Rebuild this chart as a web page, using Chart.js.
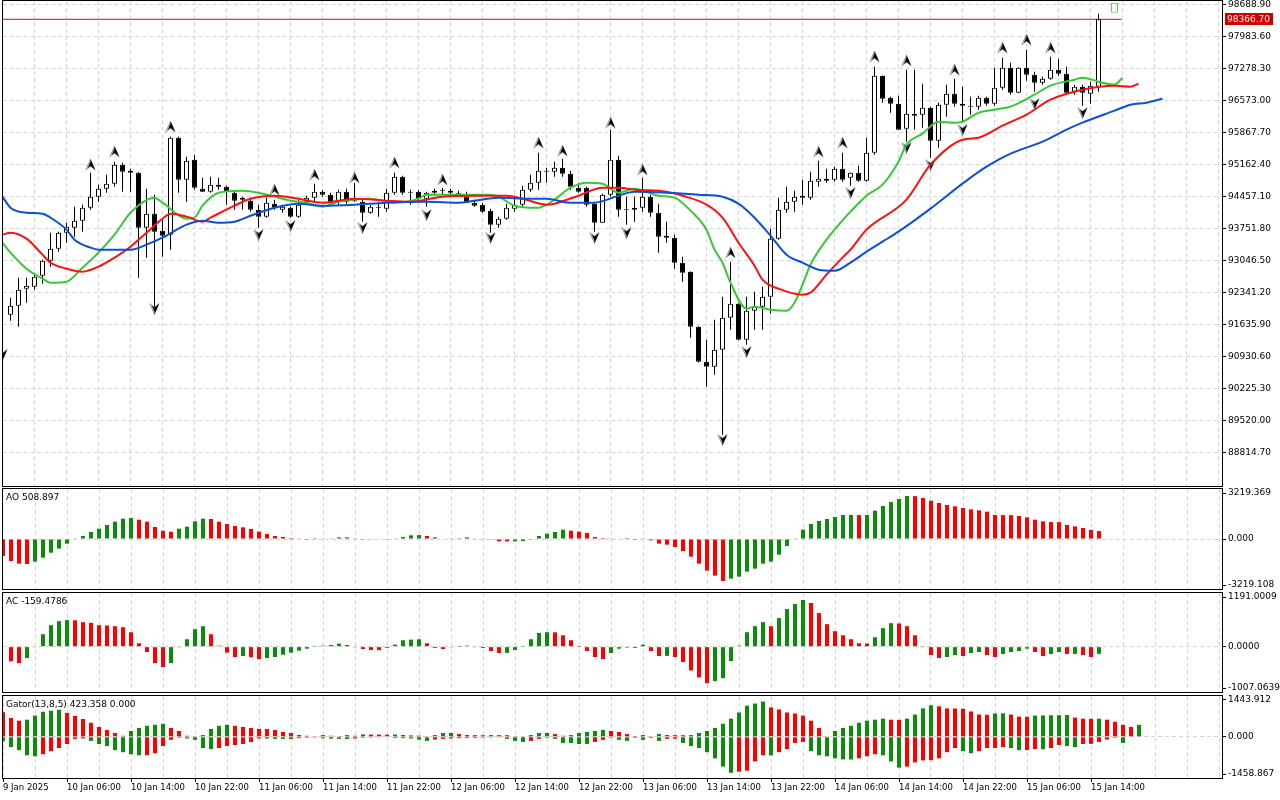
<!DOCTYPE html>
<html lang="en">
<head>
    <meta charset="UTF-8">
    <meta name="viewport" content="width=device-width, initial-scale=1.0">
    <title>BTCUSD H1 - Alligator, Fractals, AO, AC, Gator</title>
    <script src="https://cdn.jsdelivr.net/npm/chart.js"></script>
    <style>
        body { margin: 0; background: #fff; width: 1280px; height: 800px; overflow: hidden; position: relative; }
        canvas { position: absolute; left: 0; }
    </style>
</head>
<body>
<canvas id="priceChart" width="1280" height="487" style="top:0"></canvas>
<canvas id="aoChart" width="1280" height="103" style="top:487px"></canvas>
<canvas id="acChart" width="1280" height="103" style="top:590px"></canvas>
<canvas id="gatorChart" width="1280" height="106" style="top:694px"></canvas>

<script>
    // ---- data (bar index 0 = 9 Jan 22:00, one bar per hour) ----
    const firstCandleBar = 1;
    const candleOpen = [
        91856, 92055, 92429, 92474, 92716, 93046, 93311, 93664, 93774, 93928,
        94215, 94457, 94633, 94744, 95162, 95030, 94986, 93774, 94082, 93708,
        93620, 95758, 94832, 95273, 94633, 94567, 94722, 94678, 94545, 94435,
        94369, 94171, 94017, 94303, 94171, 94215, 94017, 94347, 94435, 94567,
        94501, 94347, 94567, 94413, 94347, 94105, 94237, 94193, 94545, 94898,
        94567, 94567, 94413, 94545, 94589, 94589, 94545, 94457, 94325, 94281,
        94149, 93840, 93972, 94193, 94281, 94611, 94766, 95030, 95008, 95096,
        94964, 94655, 94655, 94303, 93884, 94501, 95273, 94171, 94171, 94215,
        94457, 94105, 93598, 93554, 93002, 92804, 91592, 90821, 90711, 91085,
        91790, 92099, 91305, 91945, 92033, 92253, 93532, 94171, 94347, 94479,
        94435, 94788, 94854, 94832, 95074, 94876, 94986, 94810, 95427, 97124,
        96639, 96507, 95956, 96286, 96264, 96419, 95691, 96485, 96727, 96507,
        96463, 96441, 96639, 96507, 96860, 97300, 96749, 97300, 97146, 96970,
        97058, 97256, 97168, 96771, 96882, 96727, 96882
    ];
    const candleHigh = [
        92231, 92672, 92672, 92782, 93069, 93664, 93686, 93884, 94237, 94281,
        94986, 94722, 94942, 95229, 95207, 95074, 95000, 94633, 94501, 93950,
        95780, 95780, 95339, 95383, 94876, 94898, 94876, 94700, 94567, 94457,
        94435, 94281, 94435, 94391, 94281, 94237, 94391, 94479, 94744, 94611,
        94545, 94611, 94633, 94766, 94391, 94281, 94347, 94633, 94986, 94920,
        94611, 94611, 94567, 94633, 94655, 94633, 94589, 94567, 94391, 94325,
        94193, 94017, 94303, 94479, 94700, 94942, 95427, 95096, 95229, 95295,
        95030, 94766, 94678, 94325, 94523, 95934, 95361, 94457, 94457, 94876,
        94501, 94303, 93906, 93620, 93135, 92810, 91600, 91305, 91746, 92253,
        93024, 92110, 92253, 92363, 92474, 93752, 94435, 94678, 94589, 94832,
        95008, 95251, 95074, 95118, 95427, 94990, 95140, 95758, 97322, 97130,
        96661, 96683, 97256, 97256, 96948, 96441, 96529, 96926, 97058, 96882,
        96661, 96683, 96661, 97300, 97521, 97410, 97310, 97697, 97212, 97102,
        97543, 97499, 97322, 96926, 96926, 96992, 98490
    ];
    const candleLow = [
        91724, 91592, 92121, 92407, 92540, 92914, 93245, 93443, 93576, 93686,
        94171, 94347, 94545, 94678, 94567, 94567, 92672, 93113, 92033, 93135,
        93289, 94545, 94347, 94611, 94560, 94545, 94611, 94281, 94171, 94171,
        94127, 93774, 93995, 94171, 94105, 93995, 93995, 94281, 94347, 94457,
        94281, 94281, 94303, 94347, 93906, 94083, 94017, 94127, 94501, 94501,
        94281, 94391, 94237, 94479, 94501, 94501, 94457, 94320, 94237, 94105,
        93664, 93774, 93950, 94127, 94237, 94567, 94611, 94766, 94898, 94898,
        94611, 94545, 94237, 93686, 93880, 94457, 94017, 93840, 93906, 94127,
        94017, 93223, 93443, 92870, 92584, 91349, 90800, 90269, 90534, 89212,
        91526, 91290, 91195, 91526, 91526, 91878, 93510, 94105, 94127, 94281,
        94391, 94678, 94766, 94788, 94788, 94700, 94788, 94788, 95383, 96529,
        96308, 95930, 95670, 95934, 95978, 95317, 95537, 96220, 96441, 96110,
        96264, 96375, 96463, 96463, 96816, 96705, 96740, 97014, 96771, 96926,
        97036, 97124, 96705, 96705, 96463, 96507, 96771
    ];
    const candleClose = [
        92055, 92407, 92496, 92694, 93046, 93311, 93664, 93796, 93928, 94215,
        94457, 94633, 94744, 95162, 95008, 94986, 93774, 94082, 93686, 93598,
        95758, 94832, 95251, 94655, 94567, 94722, 94678, 94567, 94369, 94391,
        94171, 94017, 94325, 94215, 94237, 94017, 94281, 94435, 94567, 94501,
        94325, 94567, 94347, 94369, 94105, 94237, 94215, 94545, 94898, 94545,
        94545, 94413, 94545, 94589, 94600, 94545, 94523, 94325, 94259, 94127,
        93840, 93972, 94215, 94281, 94611, 94766, 95030, 95008, 95096, 94964,
        94678, 94567, 94281, 93884, 94501, 95273, 94171, 94160, 94215, 94457,
        94105, 93576, 93554, 93002, 92782, 91592, 90821, 90711, 91085, 91790,
        92099, 91305, 91945, 92033, 92253, 93532, 94171, 94347, 94457, 94435,
        94810, 94854, 94810, 95074, 94832, 94986, 94810, 95427, 97124, 96617,
        96507, 95934, 96286, 96242, 96419, 95691, 96485, 96727, 96507, 96463,
        96441, 96639, 96507, 96860, 97300, 96749, 97300, 97146, 96970, 97058,
        97256, 97168, 96749, 96882, 96749, 96904, 98366.70
    ];

    // Alligator lines, sampled along the curves (already shifted forward)
    const jawBars = [0, 1, 3, 5, 6, 8, 9, 11, 12, 16, 18, 20, 23, 25, 27, 29, 31, 34, 37, 40,
        44, 48, 53, 57, 59, 62, 66, 68, 71, 74, 77, 79, 83, 87, 90, 92, 94, 96, 98, 100,
        102, 104, 106, 108, 110, 112, 116, 120, 123, 126, 130, 133, 135, 139, 141, 143, 145];
    const jawPrices = [94457, 94215, 94104, 94082, 93994, 93730, 93509, 93333, 93289, 93289,
        93399, 93553, 93840, 93928, 93884, 93906, 94038, 94215, 94303, 94259,
        94281, 94325, 94347, 94325, 94369, 94435, 94413, 94413, 94325, 94325,
        94479, 94567, 94545, 94501, 94457, 94303, 93994, 93598, 93179, 93002,
        92848, 92826, 93002, 93245, 93465, 93686, 94193, 94744, 95118, 95405,
        95669, 95934, 96088, 96353, 96485, 96529, 96617];
    const teethBars = [0, 1, 3, 5, 6, 8, 10, 12, 14, 16, 18, 20, 21, 23, 25, 26, 29, 31, 34, 37,
        40, 44, 48, 51, 55, 59, 63, 65, 68, 69, 72, 75, 77, 79, 83, 85, 88, 90, 92, 94,
        95, 97, 100, 101, 103, 105, 106, 108, 113, 116, 120, 122, 125, 128, 131, 135, 139, 141, 142];
    const teethPrices = [93620, 93664, 93532, 93179, 93002, 92870, 92804, 92914, 93113, 93355,
        93664, 93972, 94082, 94017, 93906, 93994, 94259, 94413, 94479, 94413,
        94325, 94413, 94369, 94347, 94457, 94479, 94479, 94413, 94281, 94303,
        94479, 94655, 94655, 94611, 94567, 94479, 94281, 93994, 93443, 92936,
        92628, 92429, 92297, 92341, 92738, 93113, 93289, 93730, 94391, 95162,
        95713, 95758, 96022, 96264, 96595, 96815, 96904, 96882, 96948];
    const lipsBars = [0, 1, 3, 5, 6, 8, 10, 12, 14, 16, 19, 20, 23, 24, 25, 27, 30, 32, 34, 36,
        38, 40, 42, 46, 49, 52, 53, 57, 61, 62, 64, 66, 67, 69, 71, 73, 75, 77, 79, 82,
        84, 86, 88, 89, 90, 91, 93, 94, 96, 98, 99, 100, 101, 103, 104, 106, 108, 110, 112, 113,
        115, 117, 119, 120, 122, 124, 126, 129, 131, 134, 135, 137, 139, 140];
    const lipsPrices = [93443, 93223, 92870, 92650, 92562, 92584, 92892, 93223, 93620, 94104,
        94435, 94325, 93972, 93994, 94259, 94545, 94589, 94545, 94457, 94369,
        94325, 94237, 94347, 94413, 94325, 94413, 94501, 94501, 94501, 94457,
        94259, 94215, 94215, 94391, 94655, 94766, 94744, 94545, 94633, 94479,
        94435, 94149, 93730, 93289, 93002, 92562, 91989, 92033, 91967, 91945,
        92121, 92518, 92958, 93509, 93730, 94127, 94479, 94722, 95229, 95603,
        95846, 96110, 96088, 96110, 96308, 96375, 96441, 96705, 96904, 97036,
        97080, 96992, 96926, 97080];

    // Fractal arrow positions
    const fractalUpBars = [11, 14, 21, 34, 39, 44, 49, 55, 67, 70, 76, 80, 91, 102, 105, 109, 113, 119, 125, 128, 131];
    const fractalUpPrices = [95162, 95449, 96000, 94611, 94942, 94876, 95207, 94832, 95647, 95471, 96088,
        95052, 93223, 95449, 95647, 97543, 97455, 97256, 97741, 97917, 97741];
    const fractalDownBars = [0, 19, 32, 36, 45, 53, 61, 74, 78, 90, 93, 106, 113, 116, 120, 129, 135];
    const fractalDownPrices = [90975, 91989, 93620, 93818, 93774, 94060, 93554, 93554, 93664, 89101, 91041,
        94545, 95537, 95162, 95934, 96507, 96308];

    const lastPrice = 98366.70;
    const bidLineEndBar = 139.9;
    const tickBoxBar = 139;
    const tickBoxRange = [98512, 98733];

    const priceTicks = [98688.90, 97983.60, 97278.30, 96573.00, 95867.70, 95162.40, 94457.10, 93751.80,
        93046.50, 92341.20, 91635.90, 90930.60, 90225.30, 89520.00, 88814.70];
    const timeLabels = ['9 Jan 2025', '10 Jan 06:00', '10 Jan 14:00', '10 Jan 22:00', '11 Jan 06:00',
        '11 Jan 14:00', '11 Jan 22:00', '12 Jan 06:00', '12 Jan 14:00', '12 Jan 22:00', '13 Jan 06:00',
        '13 Jan 14:00', '13 Jan 22:00', '14 Jan 06:00', '14 Jan 14:00', '14 Jan 22:00', '15 Jan 06:00',
        '15 Jan 14:00'];

    const aoValues = [
        -1094, -1416, -1588, -1610, -1459, -1202, -880, -622, -300, 40,
        193, 451, 665, 901, 1116, 1309, 1352, 1245, 1116, 773,
        537, 472, 665, 794, 1137, 1309, 1288, 1116, 966, 837,
        751, 644, 472, 322, 193, 129, 64, 21, -10, 5,
        40, 45, 107, 110, 43, -20, -25, -30, -20, 21,
        129, 236, 250, 193, 107, 30, 45, 55, 107, 43,
        40, -21, -150, -155, -150, -129, -21, 193, 343, 451,
        601, 537, 472, 386, 129, 5, 43, 35, 5, -10,
        43, -86, -300, -365, -515, -773, -1137, -1588, -2039, -2361,
        -2704, -2554, -2425, -2103, -1910, -1588, -1459, -1009, -451, 43,
        601, 966, 1159, 1288, 1416, 1545, 1550, 1540, 1548, 1824,
        2125, 2382, 2575, 2768, 2760, 2640, 2468, 2318, 2189, 2103,
        1996, 1910, 1846, 1760, 1545, 1540, 1535, 1481, 1395, 1245,
        1137, 1094, 1090, 901, 815, 708, 590, 508.897
    ];
    const acValues = [
        null, -328, -365, -253, -15, 276, 477, 566, 589, 585,
        544, 529, 477, 470, 454, 432, 320, 75, -119, -365,
        -454, -365, -15, 164, 387, 454, 276, 22, -134, -231,
        -209, -235, -276, -253, -231, -179, -134, -89, -45, 3,
        22, 37, 67, 37, -15, -52, -75, -78, -30, 45,
        142, 156, 164, 75, -30, -52, -15, 2, 22, -7,
        -30, -97, -142, -138, -75, 3, 164, 305, 320, 318,
        253, 142, 2, -97, -231, -276, -142, -45, -22, -28,
        45, -97, -209, -205, -231, -343, -529, -685, -812, -767,
        -700, -320, 22, 320, 454, 544, 454, 633, 834, 946,
        1036, 969, 745, 499, 343, 253, 164, 75, 70, 209,
        410, 521, 515, 454, 253, -5, -186, -253, -231, -186,
        -209, -142, -119, -186, -231, -164, -119, -97, -45, -119,
        -209, -164, -119, -164, -160, -186, -231, -159.4786
    ];
    const gatorUpper = [
        873, 667, 570, 606, 751, 885, 921, 957, 848, 739,
        630, 497, 351, 242, 133, 36, 206, 315, 388, 424,
        461, 315, 206, 36, 24, 61, 279, 388, 424, 388,
        351, 315, 279, 275, 242, 170, 133, 61, 36, 24,
        61, 36, 30, 61, 36, 85, 80, 78, 75, 80,
        61, 48, 40, 24, 61, 133, 135, 97, 61, 58,
        55, 61, 58, 55, 24, 20, 61, 133, 135, 97,
        36, 61, 133, 170, 206, 242, 206, 170, 97, 5,
        61, 24, 97, 61, 58, 55, 61, 133, 206, 315,
        461, 642, 861, 1103, 1176, 1248, 1042, 970, 861, 824,
        751, 570, 315, 24, 206, 315, 388, 497, 570, 606,
        642, 606, 600, 642, 788, 1006, 1115, 1079, 1006, 1000,
        995, 897, 788, 780, 824, 830, 788, 715, 710, 751,
        755, 760, 765, 770, 679, 642, 636, 640, 606, 533,
        424, 351, 423.358
    ];
    const gatorLower = [
        -158, -364, -473, -655, -691, -618, -509, -400, -255, -73,
        -60, -145, -255, -327, -473, -545, -618, -655, -650, -582,
        -327, -109, -36, -60, -109, -400, -436, -400, -327, -291,
        -255, -182, -60, -65, -73, -75, -78, -48, -36, -30,
        -55, -70, -73, -78, -60, -36, -30, -25, -20, -45,
        -50, -60, -100, -145, -97, -73, -60, -50, -45, -40,
        -35, -30, -25, -73, -145, -182, -145, -73, -36, -73,
        -218, -220, -255, -258, -182, -109, -36, -109, -145, -36,
        -109, -40, -145, -73, -70, -218, -327, -400, -545, -764,
        -1054, -1273, -1236, -1200, -873, -655, -660, -545, -436, -218,
        -182, -509, -655, -691, -764, -800, -805, -764, -691, -618,
        -655, -873, -1091, -1054, -909, -836, -830, -764, -545, -400,
        -509, -582, -509, -400, -395, -364, -400, -473, -470, -436,
        -440, -400, -291, -327, -364, -255, -250, -182, -100, -36,
        -218
    ];

    const aoTickLabels = ['-3219.108', '0.000', '3219.369'];
    const acTickLabels = ['-1007.0639', '0.0000', '1191.0009'];
    const gatorTickLabels = ['-1458.867', '0.000', '1443.912'];

    // ---- styling ----
    const UP = '#0b8c0b', DOWN = '#ff0000';
    const GRID = '#d6d6d6';
    const DASH = [4, 3];
    const AXIS_W = 58;      // width of the price column on the right
    const PLOT_RIGHT = 1222;
    const BAR_PX = 8;

    Chart.defaults.font.family = '"DejaVu Sans", sans-serif';
    Chart.defaults.font.size = 9;
    Chart.defaults.color = '#000';

    const pts = (xs, ys) => xs.map((x, i) => ({x: x, y: ys[i]}));
    const xMaxFor = left => (PLOT_RIGHT - left) / BAR_PX;

    function trendColors(values, firstColor, better) {
        return values.map((v, i) => {
            if (i === 0 || values[i - 1] === null) return firstColor;
            return better(v, values[i - 1]) ? UP : DOWN;
        });
    }

    function arrowIcon(up) {
        const c = document.createElement('canvas');
        c.width = 11; c.height = 12;
        const g = c.getContext('2d');
        if (!up) { g.translate(0, 12); g.scale(1, -1); }
        g.beginPath(); g.moveTo(5.5, 0); g.lineTo(10.5, 11.5); g.lineTo(5.5, 7.5); g.lineTo(0.5, 11.5); g.closePath();
        g.fillStyle = '#000'; g.fill();
        g.beginPath(); g.moveTo(5.5, 0); g.lineTo(0.5, 11.5); g.lineTo(2.6, 10); g.lineTo(5.5, 3); g.closePath();
        g.fillStyle = '#a9b6c4'; g.fill();
        return c;
    }

    function fitRightAxis(s) { s.width = AXIS_W; s.paddingTop = 0; s.paddingBottom = 0; }
    function fitHiddenX(s) { s.height = 0; s.paddingLeft = 0; s.paddingRight = 0; }
    function gridEvery4(s) {
        s.ticks = [];
        for (let v = 4; v <= s.max; v += 4) s.ticks.push({value: v});
    }
    const timeLabelAt = v => (v % 8 === 0 && timeLabels[v / 8]) ? timeLabels[v / 8] : '';

    // frame round the plot area and the indicator caption
    const panelFrame = {
        id: 'panelFrame',
        afterDraw(chart, args, opts) {
            const {ctx, chartArea: a} = chart;
            const x1 = Math.floor(a.left - 0.5) + 0.5, x2 = Math.round(a.right) + 0.5;
            const y1 = Math.round(a.top) - 0.5, y2 = Math.round(a.bottom) + 0.5;
            ctx.save();
            ctx.strokeStyle = '#000';
            ctx.lineWidth = 1;
            ctx.strokeRect(x1, y1, x2 - x1, y2 - y1);
            if (opts.title) {
                ctx.font = '9px "DejaVu Sans"';
                ctx.fillStyle = '#000';
                ctx.textBaseline = 'top';
                ctx.fillText(opts.title, a.left + 3, a.top + 4);
            }
            ctx.restore();
        }
    };

    const priceTag = {
        id: 'priceTag',
        afterDraw(chart) {
            const {ctx, chartArea: a} = chart;
            const y = Math.round(chart.scales.y.getPixelForValue(lastPrice));
            ctx.save();
            ctx.fillStyle = '#d40000';
            ctx.fillRect(a.right + 3, y - 6, 48, 12);
            ctx.fillStyle = '#fff';
            ctx.font = '9px "DejaVu Sans"';
            ctx.textBaseline = 'middle';
            ctx.fillText(lastPrice.toFixed(2), a.right + 5, y + 0.5);
            ctx.restore();
        }
    };

    const commonOptions = (left, top, bottom, title) => ({
        responsive: false,
        animation: false,
        events: [],
        layout: {autoPadding: false, padding: {left: left, right: 0, top: top, bottom: bottom}},
        plugins: {legend: {display: false}, tooltip: {enabled: false}, panelFrame: {title: title}}
    });

    // ---- price panel ----
    const candleBars = candleOpen.map((o, i) => i + firstCandleBar);
    const bodyColors = candleOpen.map((o, i) => candleClose[i] >= o ? '#fff' : '#000');
    const mainLeft = 2.5;

    const priceOptions = commonOptions(mainLeft, 1, 1, '');
    priceOptions.scales = {
        x: {
            type: 'linear', min: 0, max: xMaxFor(mainLeft), offset: false,
            afterBuildTicks: gridEvery4, afterFit: fitHiddenX,
            grid: {color: GRID, drawTicks: false, offset: false},
            border: {display: false, dash: DASH},
            ticks: {display: false}
        },
        y: {
            position: 'right', min: 88080, max: 98770,
            afterBuildTicks: s => { s.ticks = priceTicks.slice().reverse().map(v => ({value: v})); },
            afterFit: fitRightAxis,
            grid: {color: GRID, tickColor: '#000', tickLength: 4, tickBorderDash: []},
            border: {display: false, dash: DASH},
            ticks: {autoSkip: false, padding: 2, callback: v => v.toFixed(2)}
        }
    };

    new Chart(document.getElementById('priceChart'), {
        type: 'bar',
        data: {
            datasets: [
                {type: 'line', label: 'Jaw', data: pts(jawBars, jawPrices), borderColor: '#0a50d8',
                    borderWidth: 2, pointRadius: 0, cubicInterpolationMode: 'monotone', order: 0},
                {type: 'line', label: 'Teeth', data: pts(teethBars, teethPrices), borderColor: '#ff1010',
                    borderWidth: 2, pointRadius: 0, cubicInterpolationMode: 'monotone', order: 0},
                {type: 'line', label: 'Lips', data: pts(lipsBars, lipsPrices), borderColor: '#36c936',
                    borderWidth: 2, pointRadius: 0, cubicInterpolationMode: 'monotone', order: 0},
                {type: 'scatter', label: 'Fractal up', data: pts(fractalUpBars, fractalUpPrices),
                    pointStyle: arrowIcon(true), pointRadius: 5, order: 0},
                {type: 'scatter', label: 'Fractal down', data: pts(fractalDownBars, fractalDownPrices),
                    pointStyle: arrowIcon(false), pointRadius: 5, order: 0},
                {type: 'bar', label: 'Body',
                    data: candleBars.map((x, i) => ({x: x, y: [candleOpen[i], candleClose[i]]})),
                    backgroundColor: bodyColors, borderColor: '#000', borderWidth: 1, borderSkipped: false,
                    barThickness: 5, minBarLength: 1, grouped: false, inflateAmount: 0, order: 1},
                {type: 'bar', label: 'Wick',
                    data: candleBars.map((x, i) => ({x: x, y: [candleLow[i], candleHigh[i]]})),
                    backgroundColor: '#000', barThickness: 1, grouped: false, inflateAmount: 0, order: 2},
                {type: 'bar', label: 'Tick box', data: [{x: tickBoxBar, y: tickBoxRange}],
                    backgroundColor: 'rgba(0,0,0,0)', borderColor: '#5fd35f', borderWidth: 1,
                    borderSkipped: false, barThickness: 7, grouped: false, inflateAmount: 0, order: 1},
                {type: 'line', label: 'Bid', data: [{x: -1, y: lastPrice}, {x: bidLineEndBar, y: lastPrice}],
                    borderColor: '#f00000', borderWidth: 1, pointRadius: 0, order: 3}
            ]
        },
        options: priceOptions,
        plugins: [panelFrame, priceTag]
    });

    // ---- indicator panels ----
    function insetTicks(min, max, plotHeight) {
        const d = 4 * (max - min) / plotHeight;   // MT5 puts the edge labels 4px inside
        return s => { s.ticks = [min + d, 0, max - d].map(v => ({value: v})); };
    }

    function histogramPanel(id, p) {
        const left = 3;
        const opts = commonOptions(left, p.top, p.bottom, p.title);
        opts.scales = {
            x: p.timeAxis ? {
                type: 'linear', min: 0, max: xMaxFor(left), offset: false,
                afterBuildTicks: s => { s.ticks = []; for (let v = 0; v <= s.max; v += 4) s.ticks.push({value: v}); },
                afterFit: s => { s.height = p.axisHeight; s.paddingLeft = 0; s.paddingRight = 0; },
                grid: {color: GRID, offset: false, drawTicks: true, tickLength: 4, tickBorderDash: [],
                    tickColor: c => timeLabelAt(c.tick.value) ? '#000' : 'rgba(0,0,0,0)'},
                border: {display: false, dash: DASH},
                ticks: {autoSkip: false, maxRotation: 0, minRotation: 0, align: 'start', padding: 1,
                    font: {size: 8.5}, callback: v => timeLabelAt(v)}
            } : {
                type: 'linear', min: 0, max: xMaxFor(left), offset: false,
                afterBuildTicks: gridEvery4, afterFit: fitHiddenX,
                grid: {color: GRID, drawTicks: false, offset: false},
                border: {display: false, dash: DASH},
                ticks: {display: false}
            },
            y: {
                position: 'right', min: p.min, max: p.max,
                afterBuildTicks: insetTicks(p.min, p.max, p.plotHeight),
                afterFit: fitRightAxis,
                grid: {color: c => c.tick && c.tick.value === 0 ? GRID : 'rgba(0,0,0,0)',
                    tickColor: '#000', tickLength: 4, tickBorderDash: []},
                border: {display: false, dash: DASH},
                ticks: {autoSkip: false, padding: 2, callback: (v, i) => p.tickLabels[i]}
            }
        };
        const datasets = p.series.map(s => ({
            label: s.label,
            data: s.values.map((v, i) => ({x: i, y: v})),
            backgroundColor: s.colors,
            borderWidth: 0, barThickness: 4, grouped: false, inflateAmount: 0
        }));
        return new Chart(document.getElementById(id), {
            type: 'bar', data: {datasets: datasets}, options: opts, plugins: [panelFrame]
        });
    }

    const rising = (v, prev) => v > prev;
    const widening = (v, prev) => v < prev;

    histogramPanel('aoChart', {
        title: 'AO 508.897', top: 2, bottom: 1, plotHeight: 100,
        min: -3219.108, max: 3219.369, tickLabels: aoTickLabels,
        series: [{label: 'AO', values: aoValues, colors: trendColors(aoValues, DOWN, rising)}]
    });

    histogramPanel('acChart', {
        title: 'AC -159.4786', top: 3, bottom: 1, plotHeight: 99,
        min: -1007.0639, max: 1191.0009, tickLabels: acTickLabels,
        series: [{label: 'AC', values: acValues, colors: trendColors(acValues, DOWN, rising)}]
    });

    histogramPanel('gatorChart', {
        title: 'Gator(13,8,5) 423.358 0.000', top: 2, bottom: 0, plotHeight: 82,
        min: -1458.867, max: 1443.912, tickLabels: gatorTickLabels,
        timeAxis: true, axisHeight: 22,
        series: [
            {label: 'Gator upper', values: gatorUpper, colors: trendColors(gatorUpper, DOWN, rising)},
            {label: 'Gator lower', values: gatorLower, colors: trendColors(gatorLower, UP, widening)}
        ]
    });
</script>
</body>
</html>
